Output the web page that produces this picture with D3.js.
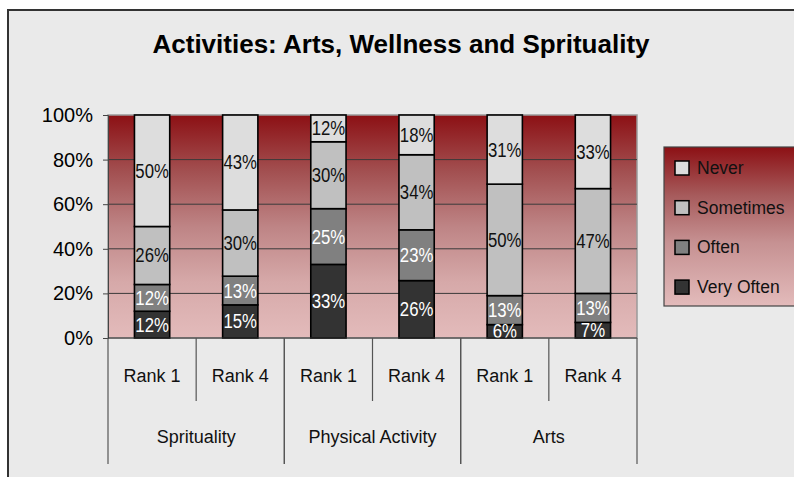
<!DOCTYPE html>
<meta charset='utf-8'>
<style>
body { margin: 0; background: #fff; }
text { font-family: 'Liberation Sans', Arial, sans-serif; }
.grid line { stroke: #3a3a3a; stroke-width: 1px; }
.seglabel { font-size: 19.5px; text-anchor: middle; }
</style>
<svg width='794' height='477'></svg>
<script src='https://d3js.org/d3.v7.min.js'></script>
<script>

// data (percent of respondents)
var groups = ['Sprituality', 'Physical Activity', 'Arts'];
var ranks = ['Rank 1', 'Rank 4'];
var seriesNames = ['Very Often', 'Often', 'Sometimes', 'Never'];
var veryOften = [12, 15, 33, 26, 6, 7];
var often     = [12, 13, 25, 23, 13, 13];
var sometimes = [26, 30, 30, 34, 50, 47];
var never     = [50, 43, 12, 18, 31, 33];
var yTicks = [0, 0.2, 0.4, 0.6, 0.8, 1];

var fills = ['#333333', '#808080', '#c0c0c0', '#dddddd'];
var labelColors = ['#fff', '#fff', '#111', '#111'];

var svg = d3.select('svg');

// outer chart area
svg.append('rect')
  .attr('x', 8).attr('y', 10).attr('width', 800).attr('height', 480)
  .attr('fill', '#eaeaea').attr('stroke', '#333').attr('stroke-width', 2);

svg.append('text')
  .attr('x', 401).attr('y', 53)
  .attr('text-anchor', 'middle')
  .style('font-size', '26px').style('font-weight', 'bold')
  .attr('fill', '#000')
  .text('Activities: Arts, Wellness and Sprituality');

// background gradient
var defs = svg.append('defs');
var grad = defs.append('linearGradient').attr('id', 'bg')
  .attr('x1', 0).attr('y1', 0).attr('x2', 0).attr('y2', 1);
[[0, '#8c1014'], [0.25, '#a24f50'], [0.5, '#be8485'], [0.75, '#d6a9a9'], [1, '#e3bbbb']]
  .forEach(function(s) { grad.append('stop').attr('offset', s[0]).attr('stop-color', s[1]); });

var plotLeft = 108, plotRight = 637, plotTop = 115, plotBottom = 338;

var cats = [];
groups.forEach(function(g) { ranks.forEach(function(r) { cats.push(g + '|' + r); }); });

var rows = cats.map(function(c, i) {
  return { cat: c, 'Very Often': veryOften[i], 'Often': often[i], 'Sometimes': sometimes[i], 'Never': never[i] };
});

var x = d3.scaleBand().domain(cats).range([plotLeft, plotRight]).paddingInner(0.6).paddingOuter(0.3);
var y = d3.scaleLinear().domain([0, 1]).range([plotBottom, plotTop]);

var stack = d3.stack().keys(seriesNames).offset(d3.stackOffsetExpand);
var layers = stack(rows);

svg.append('rect')
  .attr('x', plotLeft).attr('y', plotTop).attr('width', plotRight - plotLeft).attr('height', plotBottom - plotTop)
  .attr('fill', 'url(#bg)').attr('stroke', '#9a9a9a').attr('stroke-width', 1.5);

// gridlines
svg.append('g').attr('class', 'grid')
  .selectAll('line').data(yTicks.slice(1, 5)).enter().append('line')
  .attr('x1', plotLeft).attr('x2', plotRight)
  .attr('y1', function(d) { return y(d); }).attr('y2', function(d) { return y(d); });

// y axis
var yAxis = svg.append('g')
  .attr('transform', 'translate(' + plotLeft + ',0)')
  .call(d3.axisLeft(y).tickValues(yTicks).tickFormat(d3.format('.0%')).tickSize(5).tickPadding(10));
yAxis.select('.domain').attr('stroke', '#444');
yAxis.selectAll('.tick line').attr('stroke', '#444');
yAxis.selectAll('text').style('font-size', '20px').attr('fill', '#000');

// bars
layers.forEach(function(L, k) {
  svg.append('g').selectAll('rect').data(L).enter().append('rect')
    .attr('x', function(d) { return x(d.data.cat); })
    .attr('width', x.bandwidth())
    .attr('y', function(d) { return y(d[1]); })
    .attr('height', function(d) { return y(d[0]) - y(d[1]); })
    .attr('fill', fills[k])
    .attr('stroke', '#000').attr('stroke-width', 1.6);
});

// segment labels
layers.forEach(function(L, k) {
  svg.append('g').selectAll('text').data(L).enter().append('text')
    .attr('class', 'seglabel')
    .attr('transform', function(d) {
      var cx = x(d.data.cat) + x.bandwidth() / 2;
      var cy = (y(d[0]) + y(d[1])) / 2 + 7;
      return 'translate(' + cx + ',' + cy + ') scale(0.86,1)';
    })
    .attr('fill', labelColors[k])
    .text(function(d) { return d.data[L.key] + '%'; });
});

// x axis: bottom line, rank and group ticks
var xa = svg.append('g');
xa.append('line').attr('x1', plotLeft).attr('x2', plotRight).attr('y1', plotBottom).attr('y2', plotBottom)
  .attr('stroke', '#333').attr('stroke-width', 1.2);
var step = x.step();
cats.forEach(function(c, i) {
  var parts = c.split('|');
  var bx = x(c) - x.paddingInner() * step / 2;
  xa.append('text')
    .attr('x', x(c) + x.bandwidth() / 2).attr('y', 382)
    .attr('text-anchor', 'middle').style('font-size', '18px').attr('fill', '#111')
    .text(parts[1]);
  if (i % 2 === 1) {
    xa.append('line').attr('x1', bx).attr('x2', bx).attr('y1', plotBottom).attr('y2', 401)
      .attr('stroke', '#555').attr('stroke-width', 1.2);
  }
});
groups.forEach(function(g, gi) {
  var x0 = x(g + '|' + ranks[0]) - x.paddingInner() * step / 2;
  var x1 = x(g + '|' + ranks[1]) + x.bandwidth() + x.paddingInner() * step / 2;
  if (gi === 0) x0 = plotLeft;
  if (gi === groups.length - 1) x1 = plotRight;
  [x0, x1].forEach(function(bx) {
    xa.append('line').attr('x1', bx).attr('x2', bx).attr('y1', plotBottom).attr('y2', 464)
      .attr('stroke', '#555').attr('stroke-width', 1.2);
  });
  xa.append('text')
    .attr('x', (x0 + x1) / 2).attr('y', 443)
    .attr('text-anchor', 'middle').style('font-size', '18px').attr('fill', '#111')
    .text(g);
});

// legend
var lg = svg.append('g');
var lgrad = defs.append('linearGradient').attr('id', 'lbg')
  .attr('x1', 0).attr('y1', 0).attr('x2', 0).attr('y2', 1);
[[0, '#8c1014'], [0.3, '#a65a5b'], [0.6, '#c69192'], [1, '#e3bbbb']]
  .forEach(function(s) { lgrad.append('stop').attr('offset', s[0]).attr('stop-color', s[1]); });
lg.append('rect').attr('x', 664).attr('y', 147).attr('width', 150).attr('height', 159)
  .attr('fill', 'url(#lbg)').attr('stroke', '#444').attr('stroke-width', 1.2);
var legendOrder = seriesNames.slice().reverse();
legendOrder.forEach(function(name, i) {
  var cy = 168 + i * 39.7;
  lg.append('rect').attr('x', 675).attr('y', cy - 7).attr('width', 14).attr('height', 14)
    .attr('fill', fills[seriesNames.indexOf(name)]).attr('stroke', '#000').attr('stroke-width', 1.5);
  lg.append('text').attr('x', 697).attr('y', cy + 6)
    .style('font-size', '17.5px').attr('fill', '#111')
    .text(name);
});

</script>
